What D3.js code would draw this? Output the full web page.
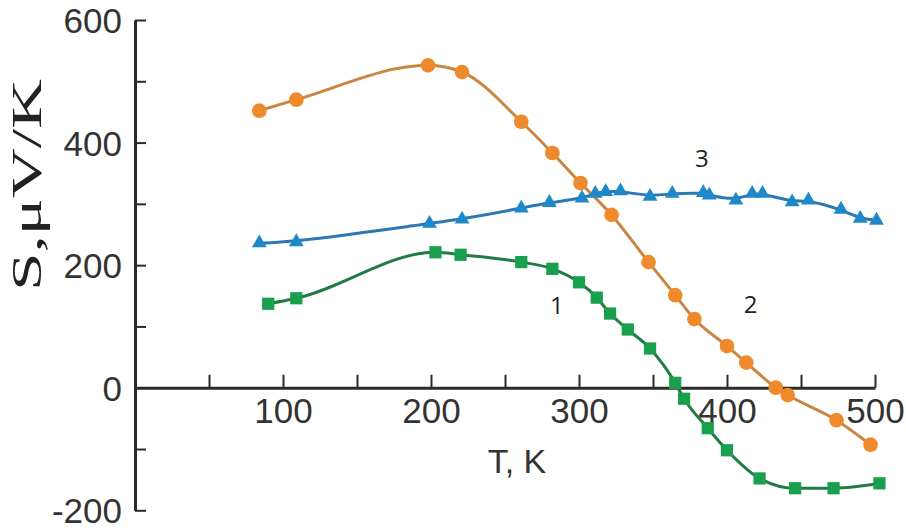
<!DOCTYPE html>
<html>
<head>
    <title>S(T)</title>
    <meta charset="utf-8">
    <style type="text/css">
        body { margin: 0; background: #fff; }
        .axis path, .axis line {
            fill: none;
            stroke: #2b2b2b;
        }
        .axis path { stroke-width: 3px; }
        .axis line { stroke-width: 2px; }
        .axis text {
            font-family: "Liberation Sans", Arial, sans-serif;
            font-size: 35px;
            fill: #333;
        }
        .curve-label {
            font-family: "Open Sans", sans-serif;
            font-size: 24px;
            fill: #222;
        }
    </style>
</head>
<body>
<script src="https://cdn.jsdelivr.net/npm/d3@7"></script>
<script type="text/javascript">
    /*=========DATA=========*/
    // curve 1 (green squares)
    var T1 = [90, 109, 203, 220, 261, 282, 300, 312, 321, 333, 348, 365, 371, 387, 400, 422, 446, 472, 503];
    var S1 = [137, 146, 221, 217, 205, 194, 172, 147, 121, 95, 64, 8, -18, -66, -102, -148, -164, -164, -156];
    // curve 2 (orange circles)
    var T2 = [84, 109, 198, 221, 261, 282, 301, 322, 347, 365, 378, 400, 413, 433, 441, 474, 497];
    var S2 = [452, 470, 526, 515, 434, 383, 334, 282, 205, 151, 112, 68, 41, 0, -12, -53, -93];
    // curve 3 (blue triangles)
    var T3 = [84, 109, 199, 221, 261, 280, 302, 311, 318, 328, 348, 363, 384, 388, 406, 417, 424, 444, 455, 477, 490, 501];
    var S3 = [236, 238, 268, 275, 293, 302, 309, 317, 320, 321, 312, 317, 318, 314, 306, 317, 317, 303, 306, 291, 276, 273];

    var xLabelTicks = [100, 200, 300, 400, 500];
    var yLabelTicks = [-200, 0, 200, 400, 600];

    /*=====SIZE SVG======*/
    var svgWidth = 906;
    var svgHeight = 532;

    var svg = d3.select("body").append("svg")
        .attr("width", svgWidth).attr("height", svgHeight);

    // scales
    var xScale = d3.scaleLinear().domain([0, 500]).range([135, 875]);
    var yScale = d3.scaleLinear().domain([-200, 600]).range([510.3, 20]);

    // y axis
    var yAxis = d3.axisLeft(yScale)
        .tickValues(d3.range(-200, 601, 100))
        .tickFormat(function (d) { return yLabelTicks.indexOf(d) >= 0 ? d : ""; })
        .tickSizeInner(-11).tickSizeOuter(0).tickPadding(13);
    svg.append("g").attr("class", "axis y-axis")
        .attr("transform", "translate(" + xScale(0) + ",0)")
        .call(yAxis);
    svg.selectAll(".y-axis text").attr("dy", "0.36em");

    // x axis on S = 0
    var xAxis = d3.axisBottom(xScale)
        .tickValues(d3.range(50, 501, 50))
        .tickFormat(function (d) { return xLabelTicks.indexOf(d) >= 0 ? d : ""; })
        .tickSizeInner(-13).tickSizeOuter(0).tickPadding(10);
    svg.append("g").attr("class", "axis x-axis")
        .attr("transform", "translate(0," + yScale(0) + ")")
        .call(xAxis);

    // axis titles
    svg.append("text")
        .attr("x", 517).attr("y", 473)
        .attr("text-anchor", "middle")
        .style("font-family", "'Liberation Sans', Arial, sans-serif")
        .style("font-size", "34px").style("fill", "#333")
        .text("T, K");

    svg.append("text")
        .attr("transform", "translate(41,185) rotate(-90)")
        .attr("text-anchor", "middle")
        .attr("textLength", 212).attr("lengthAdjust", "spacingAndGlyphs")
        .style("font-family", "'Liberation Serif', 'Times New Roman', serif")
        .style("font-size", "43px").style("fill", "#222")
        .text("S,\u03bcV/K");

    // series
    function zip(T, S) {
        return T.map(function (t, i) { return { t: t, s: S[i] }; });
    }
    var series = [
        { data: zip(T1, S1), line: "#227a45", fill: "#18a04c", shape: d3.symbolSquare, size: 150, curve: d3.curveMonotoneX },
        { data: zip(T2, S2), line: "#c98542", fill: "#ef8a2c", shape: d3.symbolCircle, size: 170, curve: d3.curveMonotoneX },
        { data: zip(T3, S3), line: "#2b78b2", fill: "#1f88c9", shape: d3.symbolTriangle, size: 95, curve: d3.curveBasis }
    ];

    series.forEach(function (ser) {
        var line = d3.line()
            .x(function (d) { return xScale(d.t); })
            .y(function (d) { return yScale(d.s); })
            .curve(ser.curve);
        svg.append("path")
            .datum(ser.data)
            .attr("fill", "none")
            .attr("stroke", ser.line)
            .attr("stroke-width", 3)
            .attr("d", line);
        svg.append("g").selectAll("path")
            .data(ser.data)
            .enter()
            .append("path")
            .attr("transform", function (d) { return "translate(" + xScale(d.t) + "," + yScale(d.s) + ")"; })
            .attr("d", d3.symbol().type(ser.shape).size(ser.size))
            .attr("fill", ser.fill);
    });

    // curve numbers
    var curveLabels = [
        { text: "1", t: 285, s: 120 },
        { text: "2", t: 416, s: 122 },
        { text: "3", t: 383, s: 360 }
    ];
    svg.selectAll(".curve-label").data(curveLabels).enter()
        .append("text").attr("class", "curve-label")
        .attr("x", function (d) { return xScale(d.t); })
        .attr("y", function (d) { return yScale(d.s); })
        .attr("text-anchor", "middle")
        .text(function (d) { return d.text; });
</script>
</body>
</html>
